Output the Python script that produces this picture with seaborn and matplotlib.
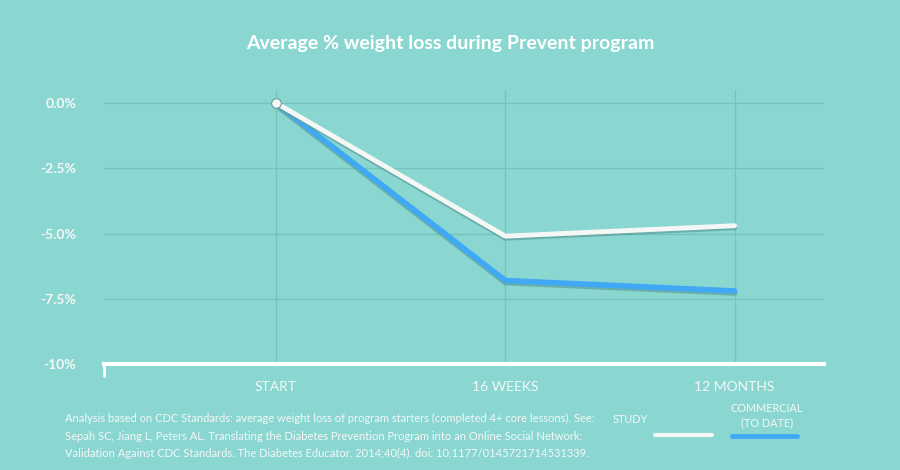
import numpy as np
import pandas as pd
import matplotlib
matplotlib.use('Agg')
import matplotlib.pyplot as plt
import matplotlib.patheffects as pe
import seaborn as sns

stages = ['START', '16 WEEKS', '12 MONTHS']
study = [0.0, -5.1, -4.7]
commercial = [0.0, -6.8, -7.2]
yticks = [0.0, -2.5, -5.0, -7.5, -10.0]
ylabels = ['0.0%', '-2.5%', '-5.0%', '-7.5%', '-10%']

bg = '#8AD7D2'
grid = '#74C3BE'
white = '#F4F7F6'
blue = '#3FA9F5'

sns.set_theme(style='white')
plt.rcParams['font.family'] = ['Lato', 'DejaVu Sans']

df = pd.DataFrame({'x': list(range(3)) * 2,
                   'val': study + commercial,
                   'series': ['STUDY'] * 3 + ['COMMERCIAL'] * 3})

fig = plt.figure(figsize=(9, 4.7), dpi=100, facecolor=bg)
ax = fig.add_axes([0.1156, 0.2255, 0.8, 0.583])
ax.set_facecolor(bg)

shadow = [pe.SimpleLineShadow(offset=(0, -1.5), shadow_color='#5E9E9A', alpha=0.7), pe.Normal()]
sns.lineplot(data=df[df.series == 'COMMERCIAL'], x='x', y='val', color=blue, lw=4,
             ax=ax, path_effects=shadow, legend=False)
sns.lineplot(data=df[df.series == 'STUDY'], x='x', y='val', color=white, lw=3.5,
             ax=ax, path_effects=shadow, legend=False)
ax.plot([0], [study[0]], 'o', color=white, ms=7, mec='#5E9E9A', mew=0.8, zorder=5)

ax.set_xlim(-0.75, 2.39)
ax.set_ylim(-10, 0.5)
ax.set_xticks(range(3))
ax.set_xticklabels(stages, color=white, fontsize=10)
ax.set_yticks(yticks)
ax.set_yticklabels(ylabels, color=white, fontsize=10, fontweight='bold')
for x in range(3):
    ax.axvline(x, color=grid, lw=1, zorder=0)
for y in yticks[:-1]:
    ax.axhline(y, color=grid, lw=1, zorder=0)
for s in ['top', 'left', 'right']:
    ax.spines[s].set_visible(False)
ax.spines['bottom'].set_color('white')
ax.spines['bottom'].set_linewidth(3)
ax.spines['bottom'].set_zorder(6)
ax.tick_params(axis='x', colors='white', length=8, width=2, direction='out', pad=4)
ax.tick_params(axis='y', length=0, pad=20)
ax.set_xlabel('')
ax.set_ylabel('')
ax.plot([-0.75, -0.75], [-10, -10.45], color='white', lw=2, clip_on=False, zorder=6)
for t in ax.get_xticklabels():
    t.set_color(white)

fig.text(0.5, 0.895, 'Average % weight loss during Prevent program', ha='center',
         color='white', fontsize=14, fontweight='bold')
fig.text(0.072, 0.072,
         'Analysis based on CDC Standards: average weight loss of program starters (completed 4+ core lessons). See:\n'
         'Sepah SC, Jiang L, Peters AL. Translating the Diabetes Prevention Program into an Online Social Network:\n'
         'Validation Against CDC Standards. The Diabetes Educator. 2014;40(4). doi: 10.1177/0145721714531339.',
         color=white, fontsize=8, va='center', linespacing=1.75)
fig.text(0.7, 0.1, 'STUDY', color=white, fontsize=7.8, ha='center')
fig.text(0.8522, 0.094, 'COMMERCIAL\n(TO DATE)', color=white, fontsize=7.8, ha='center', linespacing=1.3)
fig.add_artist(plt.Line2D([0.7278, 0.7911], [0.0745, 0.0745], color=white, lw=3))
fig.add_artist(plt.Line2D([0.8133, 0.8856], [0.0725, 0.0725], color=blue, lw=3.5))

fig.savefig('out.png', dpi=100, facecolor=bg)
